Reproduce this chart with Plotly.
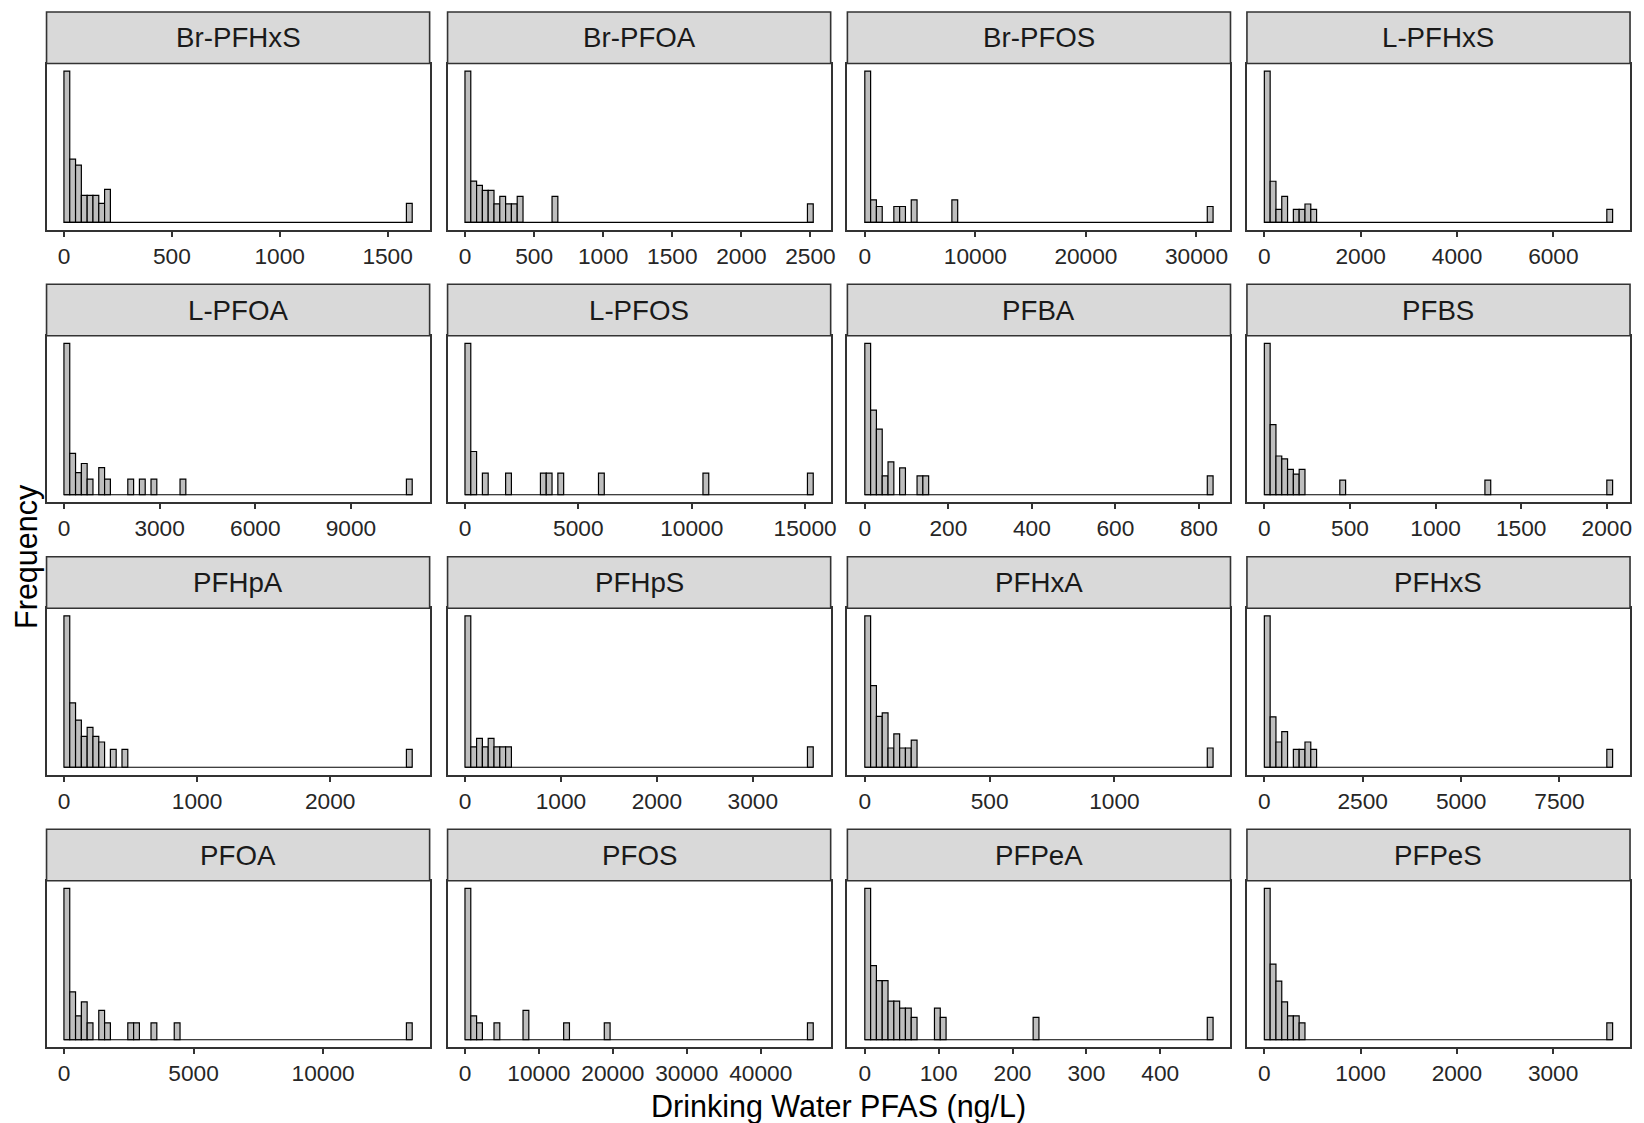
import numpy as np
import plotly.graph_objects as go

# ---------------- data ----------------
analytes = ["Br-PFHxS", "Br-PFOA", "Br-PFOS", "L-PFHxS",
            "L-PFOA", "L-PFOS", "PFBA", "PFBS",
            "PFHpA", "PFHpS", "PFHxA", "PFHxS",
            "PFOA", "PFOS", "PFPeA", "PFPeS"]

# histogram bin width (ng/L) for each analyte (60 bins, starting at 0)
bin_width = [26.9, 42.0, 525, 120.5,
             182, 256, 13.9, 33.9,
             43.6, 60.5, 23.25, 147.5,
             224, 785, 7.86, 60.3]
n_bins = 60

# occupied bins (index of the bin) and their sample counts
bin_index = [
    [0, 1, 2, 3, 4, 5, 6, 7, 59],
    [0, 1, 2, 3, 4, 5, 6, 7, 8, 9, 15, 59],
    [0, 1, 2, 5, 6, 8, 15, 59],
    [0, 1, 2, 3, 5, 6, 7, 8, 59],
    [0, 1, 2, 3, 4, 6, 7, 11, 13, 15, 20, 59],
    [0, 1, 3, 7, 13, 14, 16, 23, 41, 59],
    [0, 1, 2, 3, 4, 6, 9, 10, 59],
    [0, 1, 2, 3, 4, 5, 6, 13, 38, 59],
    [0, 1, 2, 3, 4, 5, 6, 8, 10, 59],
    [0, 1, 2, 3, 4, 5, 6, 7, 59],
    [0, 1, 2, 3, 4, 5, 6, 7, 8, 59],
    [0, 1, 2, 3, 5, 6, 7, 8, 59],
    [0, 1, 2, 3, 4, 6, 7, 11, 12, 15, 19, 59],
    [0, 1, 2, 5, 10, 17, 24, 59],
    [0, 1, 2, 3, 4, 5, 6, 7, 8, 12, 13, 29, 59],
    [0, 1, 2, 3, 4, 5, 6, 59],
]
bin_count = [
    [63, 11, 9, 2, 2, 2, 1, 3, 1],
    [67, 5, 4, 3, 3, 1, 2, 1, 1, 2, 2, 1],
    [90, 2, 1, 1, 1, 2, 2, 1],
    [135, 10, 1, 4, 1, 1, 2, 1, 1],
    [94, 7, 2, 4, 1, 3, 1, 1, 1, 1, 1, 1],
    [49, 4, 1, 1, 1, 1, 1, 1, 1, 1],
    [64, 20, 12, 1, 3, 2, 1, 1, 1],
    [107, 23, 7, 6, 3, 2, 3, 1, 1, 1],
    [72, 13, 7, 3, 5, 3, 2, 1, 1, 1],
    [55, 1, 2, 1, 2, 1, 1, 1, 1],
    [62, 18, 7, 8, 1, 3, 1, 1, 2, 1],
    [72, 8, 2, 4, 1, 1, 2, 1, 1],
    [80, 8, 2, 5, 1, 3, 1, 1, 1, 1, 1, 1],
    [80, 2, 1, 1, 3, 1, 1, 1],
    [46, 11, 7, 7, 3, 3, 2, 2, 1, 2, 1, 1, 1],
    [80, 20, 12, 5, 2, 2, 1, 1],
]

tick_values = [
    [0, 500, 1000, 1500],
    [0, 500, 1000, 1500, 2000, 2500],
    [0, 10000, 20000, 30000],
    [0, 2000, 4000, 6000],
    [0, 3000, 6000, 9000],
    [0, 5000, 10000, 15000],
    [0, 200, 400, 600, 800],
    [0, 500, 1000, 1500, 2000],
    [0, 1000, 2000],
    [0, 1000, 2000, 3000],
    [0, 500, 1000],
    [0, 2500, 5000, 7500],
    [0, 5000, 10000],
    [0, 10000, 20000, 30000, 40000],
    [0, 100, 200, 300, 400],
    [0, 1000, 2000, 3000],
]

x_title = "Drinking Water PFAS (ng/L)"
y_title = "Frequency"

# ---------------- layout geometry (pixels) ----------------
W, H = 1644, 1123
col_left = [46.7, 449.2, 850.5, 1251.5]
panel_w = 384.5
row_top = [12.0, 284.3, 556.8, 829.3]
strip_h = 51.5
panel_h = 166.5

FONT = "Liberation Sans, Arial, Helvetica, sans-serif"
EDGE = "#333333"

fig = go.Figure()
layout = dict(
    width=W, height=H, autosize=False,
    margin=dict(l=0, r=0, t=0, b=0),
    paper_bgcolor="white", plot_bgcolor="white",
    showlegend=False, barmode="overlay",
    font=dict(family=FONT, color="#262626"),
)
shapes, annotations = [], []

for i, name in enumerate(analytes):
    r, c = divmod(i, 4)
    ax = "" if i == 0 else str(i + 1)
    w = bin_width[i]
    idx = np.array(bin_index[i])
    cnt = np.array(bin_count[i], dtype=float)
    centers = (idx + 0.5) * w
    heights = np.sqrt(cnt)  # square-root count scale, as in the original

    # baseline outline of the empty bins
    fig.add_trace(go.Scatter(
        x=[0, n_bins * w], y=[0, 0], mode="lines",
        line=dict(color="black", width=1.2),
        xaxis="x" + ax, yaxis="y" + ax, hoverinfo="skip"))
    fig.add_trace(go.Bar(
        x=centers, y=heights, width=[w] * len(idx),
        marker=dict(color="#BEBEBE", line=dict(color="black", width=1.2)),
        xaxis="x" + ax, yaxis="y" + ax,
        customdata=cnt, hovertemplate="%{x}: %{customdata}<extra></extra>"))

    x0 = col_left[c] / W
    x1 = (col_left[c] + panel_w) / W
    strip_top = row_top[r]
    strip_bot = row_top[r] + strip_h
    pbot = strip_bot + panel_h
    y0 = 1 - pbot / H
    y1 = 1 - strip_bot / H

    xmax = n_bins * w
    ymax = heights.max()
    layout["xaxis" + ax] = dict(
        domain=[x0, x1], anchor="y" + ax,
        range=[-0.05 * xmax, 1.05 * xmax],
        tickmode="array", tickvals=tick_values[i],
        ticktext=[str(v) for v in tick_values[i]],
        ticks="outside", ticklen=5, tickwidth=1.5, tickcolor=EDGE,
        tickfont=dict(size=22.7, color="#262626", family=FONT),
        showline=True, mirror=True, linecolor=EDGE, linewidth=1.6,
        showgrid=False, zeroline=False, fixedrange=True)
    layout["yaxis" + ax] = dict(
        domain=[y0, y1], anchor="x" + ax,
        range=[-0.05 * ymax, 1.05 * ymax],
        showticklabels=False, ticks="",
        showline=True, mirror=True, linecolor=EDGE, linewidth=1.6,
        showgrid=False, zeroline=False, fixedrange=True)

    shapes.append(dict(
        type="rect", xref="paper", yref="paper",
        x0=x0, x1=x1, y0=y1, y1=1 - strip_top / H,
        fillcolor="#D9D9D9", line=dict(color=EDGE, width=1.6), layer="above"))
    annotations.append(dict(
        text=name, xref="paper", yref="paper",
        x=(x0 + x1) / 2, y=1 - (strip_top + strip_h / 2) / H,
        xanchor="center", yanchor="middle", showarrow=False,
        font=dict(size=27.7, color="#1A1A1A", family=FONT)))

annotations.append(dict(
    text=x_title, xref="paper", yref="paper",
    x=842 / W, y=1 - 1106 / H, xanchor="center", yanchor="middle",
    showarrow=False, font=dict(size=30.5, color="black", family=FONT)))
annotations.append(dict(
    text=y_title, xref="paper", yref="paper",
    x=26 / W, y=1 - 556 / H, xanchor="center", yanchor="middle",
    textangle=-90, showarrow=False,
    font=dict(size=30.5, color="black", family=FONT)))

layout["shapes"] = shapes
layout["annotations"] = annotations
fig.update_layout(**layout)
fig.write_html("out.html")
